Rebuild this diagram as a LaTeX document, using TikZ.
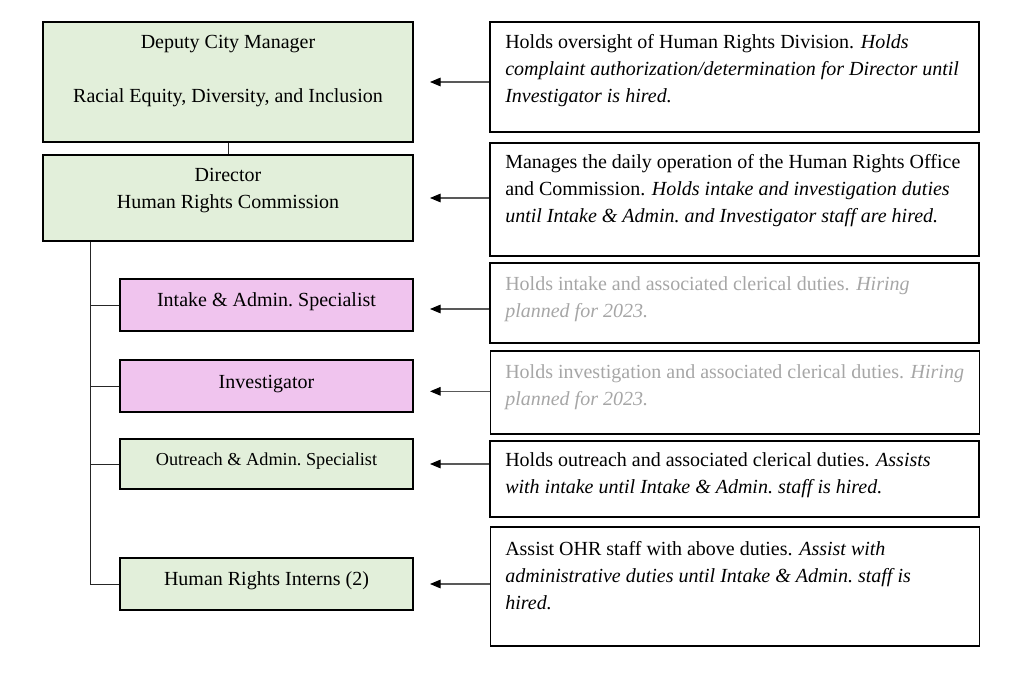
\documentclass[tikz,border=0pt]{standalone}
\usepackage{fontspec}
\setmainfont{Liberation Serif}
\usepackage{xcolor}
\usetikzlibrary{arrows.meta, positioning}

\definecolor{rolegreen}{HTML}{E2EFDA}
\definecolor{rolepink}{HTML}{F0C4EE}
\definecolor{futuregray}{HTML}{A6A6A6}

\begin{document}
\begin{tikzpicture}[
    x=0.75pt, y=-0.75pt,
    role/.style={rectangle, draw, line width=0.8pt, inner sep=0pt, minimum width=277.5pt},
    duty/.style={rectangle, draw, line width=0.8pt, inner sep=0pt, minimum width=366.75pt},
    ttl/.style={inner sep=0pt, align=center, font=\fontsize{15}{20.25}\selectfont},
    txt/.style={inner sep=0pt, anchor=west, align=left, font=\fontsize{15}{20.25}\selectfont},
    conn/.style={line width=0.7pt, black!85},
    arr/.style={-{Triangle[length=8pt, width=6.5pt, black]}, line width=0.8pt, black!65},
]
\useasboundingbox (0,0) rectangle (1024,684);

% left column: roles
\node[role, fill=rolegreen, minimum height=90pt]   (dcm)   at (228,82)    {};
\node[role, fill=rolegreen, minimum height=64.5pt] (dir)   at (228,198)   {};
\node[role, fill=rolepink, minimum width=219.75pt, minimum height=39pt]   (intake) at (266.5,305) {};
\node[role, fill=rolepink, minimum width=219.75pt, minimum height=39pt]   (inv)    at (266.5,386) {};
\node[role, fill=rolegreen, minimum width=219.75pt, minimum height=37.5pt] (outr)  at (266.5,464) {};
\node[role, fill=rolegreen, minimum width=219.75pt, minimum height=39pt]   (intern) at (266.5,584) {};

\node[ttl] (dcm-t)    at (228,71)    {Deputy City Manager\\[20.25pt]Racial Equity, Diversity, and Inclusion};
\node[ttl] (dir-t)    at (228,191)   {Director\\Human Rights Commission};
\node[ttl] (intake-t) at (266.5,302) {Intake \& Admin.\ Specialist};
\node[ttl] (inv-t)    at (266.5,384) {Investigator};
\node[ttl, font=\fontsize{13.7}{16}\selectfont] (outr-t) at (266.5,461) {Outreach \& Admin.\ Specialist};
\node[ttl] (intern-t) at (266.5,581) {Human Rights Interns (2)};

% right column: duties
\node[duty, minimum height=82.5pt]  (d1) at (734.5,77)    {};
\node[duty, minimum height=84.75pt] (d2) at (734.5,199.5) {};
\node[duty, minimum height=60pt]    (d3) at (734.5,303)   {};
\node[duty, minimum height=62.25pt] (d4) at (735,392.5)   {};
\node[duty, minimum height=57pt]    (d5) at (734.5,479)   {};
\node[duty, minimum height=89.25pt] (d6) at (735,586.5)   {};

\node[txt] (d1-t) at (505,71)    {Holds oversight of Human Rights Division. \textit{Holds}\\
  \textit{complaint authorization/determination for Director until}\\
  \textit{Investigator is hired.}};
\node[txt] (d2-t) at (505,191)   {Manages the daily operation of the Human Rights Office\\
  and Commission. \textit{Holds intake and investigation duties}\\
  \textit{until Intake \& Admin.\ and Investigator staff are hired.}};
\node[txt, text=futuregray] (d3-t) at (505,299.5) {Holds intake and associated clerical duties. \textit{Hiring}\\
  \textit{planned for 2023.}};
\node[txt, text=futuregray] (d4-t) at (505,387)   {Holds investigation and associated clerical duties. \textit{Hiring}\\
  \textit{planned for 2023.}};
\node[txt] (d5-t) at (505,475.5) {Holds outreach and associated clerical duties. \textit{Assists}\\
  \textit{with intake until Intake \& Admin.\ staff is hired.}};
\node[txt] (d6-t) at (505,575.5) {Assist OHR staff with above duties. \textit{Assist with}\\
  \textit{administrative duties until Intake \& Admin.\ staff is}\\
  \textit{hired.}};

% reporting lines
\coordinate (spine) at (90,584);
\draw[conn] (dcm) -- (dir);
\draw[conn] (dir.south -| spine) -- (spine) -- (intern.west);
\draw[conn] (intake.west) -- (intake.west -| spine);
\draw[conn] (inv.west) -- (inv.west -| spine);
\draw[conn] (outr.west) -- (outr.west -| spine);

% duty arrows
\coordinate (tip) at (430,0);
\draw[arr] (dcm -| d1.west) -- (dcm -| tip);
\draw[arr] (dir -| d2.west) -- (dir -| tip);
\draw[arr] ([yshift=-3pt]intake -| d3.west) -- ([yshift=-3pt]intake -| tip);
\draw[arr] ([yshift=-4pt]inv -| d4.west) -- ([yshift=-4pt]inv -| tip);
\draw[arr] (outr -| d5.west) -- (outr -| tip);
\draw[arr] (intern -| d6.west) -- (intern -| tip);
\end{tikzpicture}
\end{document}
